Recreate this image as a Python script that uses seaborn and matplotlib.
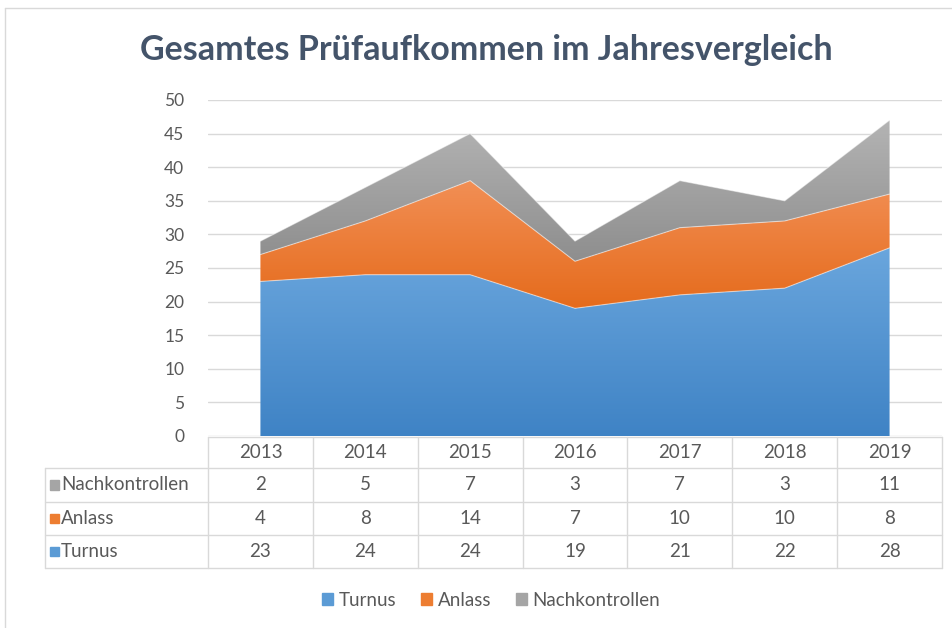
import numpy as np
import matplotlib
matplotlib.use("Agg")
import matplotlib.pyplot as plt
import matplotlib.transforms as mtransforms
from matplotlib.colors import LinearSegmentedColormap
from matplotlib.lines import Line2D
from matplotlib.patches import Rectangle
import seaborn as sns

# Daten
years = ["2013", "2014", "2015", "2016", "2017", "2018", "2019"]
turnus = [23, 24, 24, 19, 21, 22, 28]
anlass = [4, 8, 14, 7, 10, 10, 8]
nachkontrollen = [2, 5, 7, 3, 7, 3, 11]
series_names = ["Turnus", "Anlass", "Nachkontrollen"]

# Farben (oben hell -> unten dunkel)
grad_colors = {
    "Turnus": ("#6aa6dd", "#3f83c5"),
    "Anlass": ("#f28f55", "#e56b1c"),
    "Nachkontrollen": ("#b4b4b4", "#8e8e8e"),
}
key_colors = {"Turnus": "#5b9bd5", "Anlass": "#ed7d31", "Nachkontrollen": "#a5a5a5"}

sns.set_theme(style="white")
plt.rcParams["font.family"] = ["Lato", "DejaVu Sans"]

W, H = 952, 628
fig = plt.figure(figsize=(W / 100, H / 100), dpi=100)
fx = lambda px: px / W
fy = lambda py: 1 - py / H

ax = fig.add_axes([fx(208), fy(436), fx(942) - fx(208), fy(100) - fy(436)])

x = np.arange(len(years))
values = [np.array(turnus), np.array(anlass), np.array(nachkontrollen)]
bottom = np.zeros(len(years))
for name, vals in zip(series_names, values):
    top = bottom + vals
    poly = ax.fill_between(x, bottom, top, facecolor="none", edgecolor="none", zorder=2)
    ymin, ymax = bottom.min(), top.max()
    cmap = LinearSegmentedColormap.from_list(name, [grad_colors[name][1], grad_colors[name][0]])
    grad = np.linspace(0, 1, 256).reshape(-1, 1)
    img = ax.imshow(grad, cmap=cmap, aspect="auto", origin="lower",
                    extent=[x[0], x[-1], ymin, ymax], zorder=2)
    img.set_clip_path(poly.get_paths()[0], transform=ax.transData)
    ax.plot(x, top, color="white", lw=0.8, alpha=0.5, zorder=3)
    bottom = top

ax.set_xlim(-0.5, len(years) - 0.5)
ax.set_ylim(0, 50)
ax.set_yticks(range(0, 51, 5))
ax.set_xticks([])
ax.grid(axis="y", color="#d9d9d9", lw=1, zorder=0)
ax.set_axisbelow(True)
for s in ax.spines.values():
    s.set_visible(False)
ax.tick_params(axis="y", length=0, pad=17, labelsize=12.5, labelcolor="#595959")

# Titel
fig.text(fx(486), fy(50), "Gesamtes Prüfaufkommen im Jahresvergleich",
         ha="center", va="center", fontsize=24.5, fontweight="bold", color="#44546a")

# Datentabelle
line_kw = dict(color="#d9d9d9", lw=1, transform=fig.transFigure)
row_y = [437, 468, 502, 535, 568]
fig.add_artist(Line2D([fx(208), fx(942)], [fy(437)] * 2, **line_kw))
for yy in row_y[1:]:
    fig.add_artist(Line2D([fx(45), fx(942)], [fy(yy)] * 2, **line_kw))
for i in range(len(years) + 1):
    xx = 208 + i * (942 - 208) / len(years)
    fig.add_artist(Line2D([fx(xx)] * 2, [fy(437), fy(568)], **line_kw))
fig.add_artist(Line2D([fx(45)] * 2, [fy(468), fy(568)], **line_kw))

trans = mtransforms.blended_transform_factory(ax.transData, fig.transFigure)
fs = 13.5
txt_kw = dict(ha="center", va="center", fontsize=fs, color="#595959")
for i, yr in enumerate(years):
    fig.text(x[i], fy(452), yr, transform=trans, **txt_kw)

table_rows = [("Nachkontrollen", nachkontrollen), ("Anlass", anlass), ("Turnus", turnus)]
for r, (name, vals) in enumerate(table_rows):
    yc = (row_y[r + 1] + row_y[r + 2]) / 2
    fig.add_artist(Rectangle((fx(50), fy(yc + 4.5)), fx(9), fy(0) - fy(9),
                             color=key_colors[name], transform=fig.transFigure))
    fig.text(fx(61), fy(yc), name, ha="left", va="center", fontsize=fs, color="#595959")
    for i, v in enumerate(vals):
        fig.text(x[i], fy(yc), str(v), transform=trans, **txt_kw)

# Legende
handles = [Rectangle((0, 0), 1, 1, color=key_colors[n]) for n in series_names]
fig.legend(handles, series_names, loc="center", bbox_to_anchor=(fx(491), fy(600)),
           ncol=3, frameon=False, fontsize=fs, labelcolor="#595959",
           handlelength=0.6, handleheight=0.6, handletextpad=0.3, columnspacing=1.3)

# Rahmen
frame_kw = dict(color="#d9d9d9", lw=1, transform=fig.transFigure)
fig.add_artist(Line2D([fx(5), fx(5)], [fy(8), 0], **frame_kw))
fig.add_artist(Line2D([fx(5), 1], [fy(8), fy(8)], **frame_kw))

fig.savefig("out.png", dpi=100, facecolor="white")
